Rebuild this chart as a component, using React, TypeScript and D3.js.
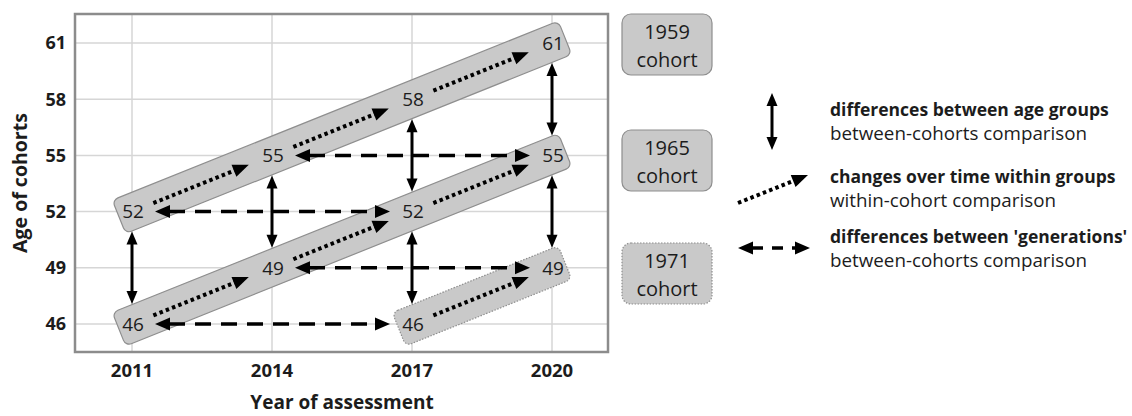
import { useEffect, useRef } from "react";
import * as d3 from "d3";

// assessment waves and age axis
const years = [2011, 2014, 2017, 2020];
const ageTicks = [46, 49, 52, 55, 58, 61];

// cohorts: birth year, waves they were seen in, their age at each wave
const cohortNames = ["1959", "1965", "1971"];
const cohortYears = [
  [2011, 2014, 2017, 2020],
  [2011, 2014, 2017, 2020],
  [2017, 2020],
];
const cohortAges = [
  [52, 55, 58, 61],
  [46, 49, 52, 55],
  [46, 49],
];

// solid vertical arrows: same wave, two cohorts
const ageGroupYears = [2011, 2014, 2017, 2017, 2020, 2020];
const ageGroupFrom = [52, 55, 58, 52, 61, 55];
const ageGroupTo = [46, 49, 52, 46, 55, 49];

// dashed horizontal arrows: same age, two waves
const generationAges = [52, 55, 46, 49];
const generationFrom = [2011, 2014, 2011, 2014];
const generationTo = [2017, 2020, 2017, 2020];

const legendBold = [
  "differences between age groups",
  "changes over time within groups",
  "differences between 'generations'",
];
const legendSub = [
  "between-cohorts comparison",
  "within-cohort comparison",
  "between-cohorts comparison",
];

const FONT = "'Open Sans', 'Noto Sans', sans-serif";
const INK = "#1c1c1c";

type ArrowOpts = {
  width: number;
  dash?: string;
  head: number;
  headW: number;
  both: boolean;
};

function arrow(
  g: d3.Selection<SVGGElement, unknown, null, undefined>,
  x1: number,
  y1: number,
  x2: number,
  y2: number,
  o: ArrowOpts
) {
  const len = Math.hypot(x2 - x1, y2 - y1);
  const ux = (x2 - x1) / len;
  const uy = (y2 - y1) / len;
  const nx = -uy;
  const ny = ux;
  const s = o.both ? o.head - 1 : 0;
  const e = o.head - 1;
  g.append("line")
    .attr("x1", x1 + ux * s)
    .attr("y1", y1 + uy * s)
    .attr("x2", x2 - ux * e)
    .attr("y2", y2 - uy * e)
    .attr("stroke", "#000")
    .attr("stroke-width", o.width)
    .attr("stroke-dasharray", o.dash || null);
  const headAt = (tx: number, ty: number, dx: number, dy: number) => {
    const bx = tx - dx * o.head;
    const by = ty - dy * o.head;
    g.append("path")
      .attr(
        "d",
        `M${tx},${ty}L${bx + nx * o.headW},${by + ny * o.headW}L${bx - nx * o.headW},${by - ny * o.headW}Z`
      )
      .attr("fill", "#000");
  };
  headAt(x2, y2, ux, uy);
  if (o.both) headAt(x1, y1, -ux, -uy);
}

const solidOpts: ArrowOpts = { width: 3, head: 13, headW: 5.5, both: true };
const dashOpts: ArrowOpts = { width: 3.5, dash: "16 10", head: 15, headW: 6.5, both: true };
const dotOpts: ArrowOpts = { width: 4, dash: "3.5 3.2", head: 16, headW: 6.5, both: false };

export default function App() {
  const svgRef = useRef<SVGSVGElement>(null);

  useEffect(() => {
    if (!svgRef.current) return;
    const W = 1132;
    const H = 416;
    const plot = { left: 75, top: 14, right: 608, bottom: 352 };

    d3.select(svgRef.current).selectAll("*").remove();
    const svg = d3.select(svgRef.current).attr("width", W).attr("height", H);

    const x = d3.scaleLinear().domain([2011, 2020]).range([plot.left + 57, plot.right - 56]);
    const y = d3.scaleLinear().domain([46, 61]).range([plot.bottom - 28, plot.top + 29]);

    // grid
    const grid = svg.append("g");
    grid.selectAll(".gx")
      .data(years)
      .enter()
      .append("line")
      .attr("x1", (d) => x(d))
      .attr("x2", (d) => x(d))
      .attr("y1", plot.top)
      .attr("y2", plot.bottom)
      .attr("stroke", "#d6d6d6")
      .attr("stroke-width", 1.5);
    grid.selectAll(".gy")
      .data(ageTicks)
      .enter()
      .append("line")
      .attr("x1", plot.left)
      .attr("x2", plot.right)
      .attr("y1", (d) => y(d))
      .attr("y2", (d) => y(d))
      .attr("stroke", "#d6d6d6")
      .attr("stroke-width", 1.5);

    svg.append("rect")
      .attr("x", plot.left)
      .attr("y", plot.top)
      .attr("width", plot.right - plot.left)
      .attr("height", plot.bottom - plot.top)
      .attr("fill", "none")
      .attr("stroke", "#8c8c8c")
      .attr("stroke-width", 2.5);

    // tick labels
    svg.append("g")
      .selectAll("text")
      .data(ageTicks)
      .enter()
      .append("text")
      .attr("x", plot.left - 9)
      .attr("y", (d) => y(d))
      .attr("dy", "0.36em")
      .attr("text-anchor", "end")
      .attr("font-family", FONT)
      .attr("font-weight", 700)
      .attr("font-size", 18)
      .attr("fill", INK)
      .text((d) => d);
    svg.append("g")
      .selectAll("text")
      .data(years)
      .enter()
      .append("text")
      .attr("x", (d) => x(d))
      .attr("y", 377)
      .attr("text-anchor", "middle")
      .attr("font-family", FONT)
      .attr("font-weight", 700)
      .attr("font-size", 18.5)
      .attr("fill", INK)
      .text((d) => d);

    svg.append("text")
      .attr("x", 342)
      .attr("y", 409)
      .attr("text-anchor", "middle")
      .attr("font-family", FONT)
      .attr("font-weight", 700)
      .attr("font-size", 19)
      .attr("fill", INK)
      .text("Year of assessment");
    svg.append("text")
      .attr("transform", `translate(27,${(plot.top + plot.bottom) / 2}) rotate(-90)`)
      .attr("text-anchor", "middle")
      .attr("font-family", FONT)
      .attr("font-weight", 700)
      .attr("font-size", 19.5)
      .attr("fill", INK)
      .text("Age of cohorts");

    // cohort bands
    const ext = 14;
    const half = 18;
    const bands = svg.append("g");
    cohortNames.forEach((_, i) => {
      const ys = cohortYears[i];
      const as = cohortAges[i];
      const x1 = x(ys[0]);
      const y1 = y(as[0]);
      const x2 = x(ys[ys.length - 1]);
      const y2 = y(as[as.length - 1]);
      const ang = (Math.atan2(y2 - y1, x2 - x1) * 180) / Math.PI;
      const len = Math.hypot(x2 - x1, y2 - y1);
      bands.append("rect")
        .attr("transform", `translate(${x1},${y1}) rotate(${ang})`)
        .attr("x", -ext)
        .attr("y", -half)
        .attr("width", len + 2 * ext)
        .attr("height", 2 * half)
        .attr("rx", 6)
        .attr("fill", "#c9c9c9")
        .attr("stroke", "#8e8e8e")
        .attr("stroke-width", 1.2)
        .attr("stroke-dasharray", i === 2 ? "1.5 1.5" : null);
    });

    const arrows = svg.append("g");
    // within-cohort change (dotted)
    cohortNames.forEach((_, i) => {
      const ys = cohortYears[i];
      const as = cohortAges[i];
      for (let k = 0; k < ys.length - 1; k++) {
        const ax = x(ys[k]);
        const ay = y(as[k]);
        const bx = x(ys[k + 1]);
        const by = y(as[k + 1]);
        const l = Math.hypot(bx - ax, by - ay);
        const ux = (bx - ax) / l;
        const uy = (by - ay) / l;
        arrow(arrows, ax + ux * 23, ay + uy * 23, bx - ux * 25, by - uy * 25, dotOpts);
      }
    });
    // between age groups (solid vertical)
    ageGroupYears.forEach((yr, i) => {
      arrow(arrows, x(yr), y(ageGroupFrom[i]) + 20, x(yr), y(ageGroupTo[i]) - 20, solidOpts);
    });
    // between generations (dashed horizontal)
    generationAges.forEach((a, i) => {
      arrow(arrows, x(generationFrom[i]) + 23, y(a), x(generationTo[i]) - 22, y(a), dashOpts);
    });

    // value labels on the bands
    const labels = svg.append("g");
    cohortNames.forEach((_, i) => {
      cohortYears[i].forEach((yr, k) => {
        labels.append("text")
          .attr("x", x(yr) + 1)
          .attr("y", y(cohortAges[i][k]))
          .attr("dy", "0.36em")
          .attr("text-anchor", "middle")
          .attr("font-family", FONT)
          .attr("font-size", 19)
          .attr("fill", INK)
          .text(cohortAges[i][k]);
      });
    });

    // cohort name boxes
    const boxTops = [14, 130, 243];
    const boxX = 622;
    const boxW = 90;
    const boxH = 61;
    cohortNames.forEach((name, i) => {
      const g = svg.append("g").attr("transform", `translate(${boxX},${boxTops[i]})`);
      g.append("rect")
        .attr("width", boxW)
        .attr("height", boxH)
        .attr("rx", 9)
        .attr("fill", "#c9c9c9")
        .attr("stroke", "#8e8e8e")
        .attr("stroke-width", 1.2)
        .attr("stroke-dasharray", i === 2 ? "1.5 1.5" : null);
      [name, "cohort"].forEach((t, j) => {
        g.append("text")
          .attr("x", boxW / 2)
          .attr("y", 25 + j * 28)
          .attr("text-anchor", "middle")
          .attr("font-family", FONT)
          .attr("font-size", 20)
          .attr("fill", INK)
          .text(t);
      });
    });

    // legend
    const leg = svg.append("g");
    arrow(leg, 772, 93, 772, 150, solidOpts);
    arrow(leg, 738, 203, 808, 175, dotOpts);
    arrow(leg, 738, 248, 810, 248, { ...dashOpts, dash: "11 9" });
    const boldY = [116, 183, 243];
    legendBold.forEach((t, i) => {
      leg.append("text")
        .attr("x", 830)
        .attr("y", boldY[i])
        .attr("font-family", FONT)
        .attr("font-weight", 700)
        .attr("font-size", 17.5)
        .attr("fill", INK)
        .text(t);
      leg.append("text")
        .attr("x", 830)
        .attr("y", boldY[i] + 24)
        .attr("font-family", FONT)
        .attr("font-size", 18.8)
        .attr("fill", INK)
        .text(legendSub[i]);
    });
  }, []);

  return (
    <div style={{ position: "absolute", left: 0, top: 0 }}>
      <svg ref={svgRef} style={{ display: "block", background: "#fff" }} />
    </div>
  );
}
